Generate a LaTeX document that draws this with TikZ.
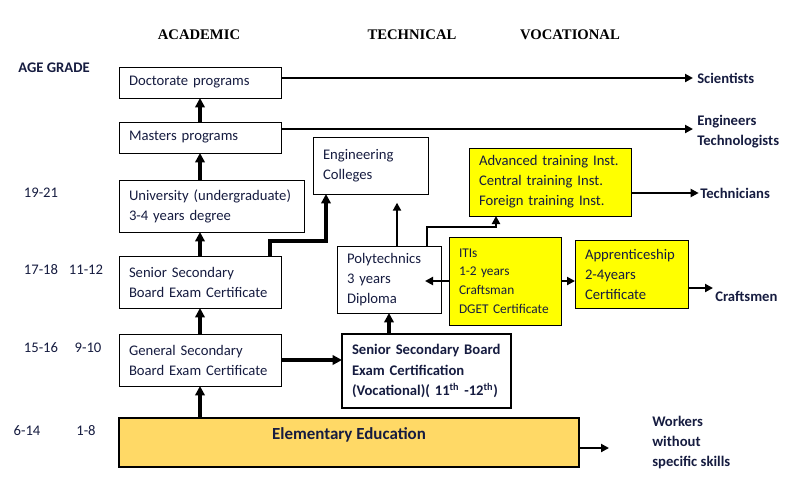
\documentclass[tikz,border=0pt]{standalone}
\usepackage{fontspec}
\setmainfont{Carlito}
\newfontfamily\headfont{Liberation Serif}
\usetikzlibrary{arrows.meta, positioning, calc}
\definecolor{boxtext}{RGB}{22,28,64}
\definecolor{vocyellow}{RGB}{255,255,0}
\definecolor{elemgold}{RGB}{255,217,102}
\tikzset{
  stage/.style={
    rectangle, draw=black, line width=0.75pt, fill=white,
    anchor=north west, align=left, inner xsep=7.5pt, outer sep=0pt,
    font=\fontsize{11}{15}\selectfont, text=boxtext
  },
  vocbox/.style={stage, fill=vocyellow},
  heading/.style={font=\headfont\bfseries\fontsize{11}{13}\selectfont, inner sep=0pt},
  age/.style={font=\fontsize{11}{13}\selectfont, text=boxtext, inner sep=0pt},
  outcome/.style={
    font=\bfseries\fontsize{11}{15}\selectfont, text=boxtext,
    inner sep=0pt, anchor=west, align=left
  },
  flow/.style={-{Triangle[length=6pt,width=6pt]}, line width=1.8pt},
  thickflow/.style={-{Triangle[length=7pt,width=7pt]}, line width=2.4pt}
}

\begin{document}
\begin{tikzpicture}[x=0.75pt, y=-0.75pt]
\useasboundingbox (0,0) rectangle (798,490);

% ── headings and age column ─────────────────────────────────────
\node[heading] (hacad) at (199,35) {ACADEMIC};
\node[heading] (htech) at (412,35) {TECHNICAL};
\node[heading] (hvoc)  at (570,35) {VOCATIONAL};

\node[age] (agehead) at (54,68) {\bfseries AGE GRADE};
\node[age] (a1921) at (41,193) {19-21};
\node[age] (a1718) at (41,270) {17-18};
\node[age] (g1112) at (86,270) {11-12};
\node[age] (a1516) at (41,348) {15-16};
\node[age] (g910)  at (88,348) {9-10};
\node[age] (a614)  at (27,431) {6-14};
\node[age] (g18)   at (86,431) {1-8};

% ── academic column ─────────────────────────────────────────────
\node[stage, text width=106.5pt, minimum height=23.25pt]
  (doct) at (119,67) {Doctorate programs};

\node[stage, text width=106.5pt, minimum height=23.25pt,
      below=18pt of doct.south west, anchor=north west]
  (mast) {Masters programs};

\node[stage, text width=123.75pt, minimum height=39pt,
      below=20.25pt of mast.south west, anchor=north west]
  (univ) {University (undergraduate)\\3-4 years degree};

\node[stage, text width=106.5pt, minimum height=39pt,
      below=18pt of univ.south west, anchor=north west]
  (senior) {Senior Secondary\\Board Exam Certificate};

\node[stage, text width=106.5pt, minimum height=39pt,
      below=19.5pt of senior.south west, anchor=north west]
  (general) {General Secondary\\Board Exam Certificate};

\node[stage, fill=elemgold, line width=2pt, minimum width=345pt,
      minimum height=36.75pt, align=center,
      font=\bfseries\fontsize{12.7}{15}\selectfont,
      below=24pt of general.south west, anchor=north west]
  (elem) {\raisebox{5.6pt}[\height][\depth]{Elementary Education}};

% ── technical column ────────────────────────────────────────────
\node[stage, text width=71.25pt, minimum height=42.75pt]
  (eng) at (313,137) {Engineering\\Colleges};

\node[stage, text width=63pt, minimum height=50.25pt]
  (poly) at (337,246) {Polytechnics\\3 years\\Diploma};

\node[stage, text width=111.75pt, minimum height=55.5pt, line width=2pt,
      font=\bfseries\fontsize{11}{15.4}\selectfont]
  (svoc) at (342,334)
  {Senior Secondary Board\\Exam Certification\\(Vocational)( 11\textsuperscript{th} -12\textsuperscript{th})};

% ── vocational column ───────────────────────────────────────────
\node[vocbox, text width=106.5pt, minimum height=51pt]
  (adv) at (469,148) {Advanced training Inst.\\Central training Inst.\\Foreign training Inst.};

\node[vocbox, text width=69pt, minimum height=66pt,
      font=\fontsize{10}{14}\selectfont]
  (itis) at (449,237) {ITIs\\1-2 years\\Craftsman\\DGET  Certificate};

\node[vocbox, text width=69.75pt, minimum height=51pt]
  (appr) at (575,240) {Apprenticeship\\2-4years\\Certificate};

% ── outcomes ────────────────────────────────────────────────────
\node[outcome] (sci)    at (697,78)  {Scientists};
\node[outcome] (engout) at (697,132) {Engineers\\Technologists};
\node[outcome] (tech)   at (700,193) {Technicians};
\node[outcome] (craft)  at (715,296) {Craftsmen};
\node[outcome] (work)   at (652,442) {Workers\\without\\specific skills};

\coordinate (engend)   at (693,129);
\coordinate (craftend) at (713,288);
\coordinate (workend)  at (609,448);

% ── academic flows ──────────────────────────────────────────────
\draw[thickflow] (mast.north) -- (doct.south);
\draw[thickflow] (univ.north -| mast.south) -- (mast.south);
\draw[thickflow] (senior.north) -- (senior.north |- univ.south);
\draw[thickflow] (general.north) -- (senior.south);
\draw[thickflow] (elem.north -| general.south) -- (general.south);
\draw[thickflow] (general.east) -- (general.east -| svoc.west);

% ── technical flows ─────────────────────────────────────────────
\draw[thickflow] (svoc.north -| poly.south) -- (poly.south);
\draw[thickflow] ($(senior.north east)+(-11,0)$)
  -- ++(0,-15)
  -| ($(eng.south west)+(13,0)$);
\draw[flow, shorten >=6.5pt] ($(poly.north)+(8,0)$) coordinate (pe)
  -- (pe |- eng.south);
\draw[flow] ($(poly.north east)+(-14,0)$)
  -- ++(0,-19)
  -| ($(adv.south west)+(27,0)$);

% ── vocational flows ────────────────────────────────────────────
\draw[flow, shorten >=-12pt] (itis.west) -- (itis.west -| poly.east);
\draw[flow] (itis.east) -- (itis.east -| appr.west);

% ── to the outcomes ─────────────────────────────────────────────
\draw[flow, shorten >=3pt] (doct.east |- sci.west) -- (sci.west);
\draw[flow] (mast.east |- engend) -- (engend);
\draw[flow, shorten >=1pt] (adv.east |- tech.west) -- (tech.west);
\draw[flow] (appr.east |- craftend) -- (craftend);
\draw[flow] (elem.east |- workend) -- (workend);

\end{tikzpicture}
\end{document}
